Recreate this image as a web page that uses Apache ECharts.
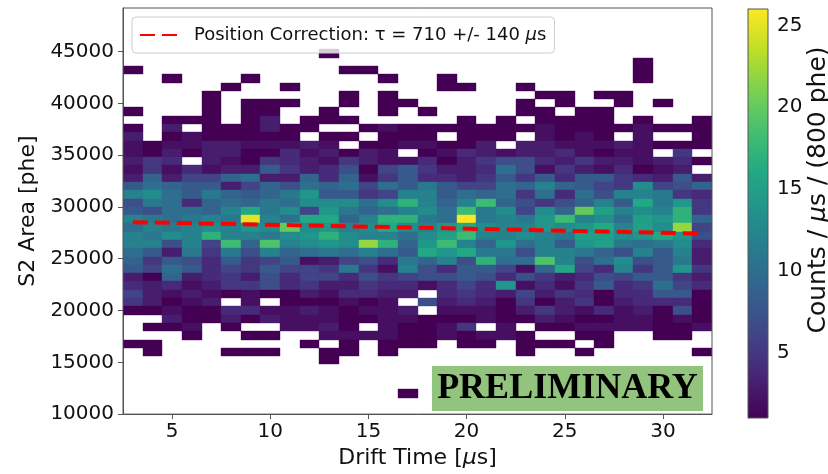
<!DOCTYPE html>
<html><head><meta charset="utf-8">
<script src="https://cdn.jsdelivr.net/npm/echarts@6/dist/echarts.min.js"></script>
<style>html,body{margin:0;padding:0;background:#fff}#c{width:828px;height:474px}</style>
</head><body><div id="c"></div>
<script>
// ---- data ----
const driftTimes = [3,4,5,6,7,8,9,10,11,12,13,14,15,16,17,18,19,20,21,22,23,24,25,26,27,28,29,30,31,32];
const s2BinLow = [44400,43600,42800,42000,41200,40400,39600,38800,38000,37200,36400,35600,34800,34000,33200,32400,31600,30800,30000,29200,28400,27600,26800,26000,25200,24400,23600,22800,22000,21200,20400,19600,18800,18000,17200,16400,15600,14800,14000,13200,12400,11600];
const counts = [
[0,0,0,0,0,0,0,0,0,0, 1,0,0,0,0,0,0,0,0,0, 0,0,0,0,0,0,0,0,0,0],
[0,0,0,0,0,0,0,0,0,0, 0,0,0,0,0,0,0,0,0,0, 0,0,0,0,0,0,1,0,0,0],
[1,0,0,0,0,0,0,0,0,0, 0,1,1,0,0,0,0,0,0,0, 0,0,0,0,0,0,1,0,0,0],
[0,0,1,0,0,0,1,0,0,0, 0,0,0,1,0,0,1,0,0,0, 0,0,0,0,0,0,1,0,0,0],
[0,0,0,0,0,1,0,0,1,0, 0,0,0,0,0,0,1,1,0,0, 1,0,0,0,0,0,0,0,0,0],
[0,0,0,0,1,0,0,0,0,0, 0,1,0,1,0,0,0,0,0,0, 0,1,1,0,1,1,0,0,0,0],
[0,0,0,0,1,0,1,1,1,0, 0,1,0,1,1,0,0,0,0,0, 1,0,1,0,0,1,0,1,0,0],
[1,0,0,0,1,0,1,1,0,0, 1,0,0,1,0,1,0,0,0,0, 1,1,0,1,1,0,0,0,0,0],
[0,0,1,1,1,0,1,3,0,1, 1,1,0,0,0,0,0,1,0,1, 0,1,1,1,1,0,1,0,0,1],
[1,0,3,0,1,1,1,3,1,1, 0,0,1,2,1,1,1,1,1,1, 1,2,1,1,1,1,2,1,1,1],
[3,0,1,2,1,1,1,1,1,0, 1,1,0,1,1,1,0,1,1,1, 0,2,1,2,1,0,2,0,0,1],
[2,1,2,2,3,3,2,2,2,3, 2,0,1,1,2,2,1,1,3,0, 3,3,2,2,2,3,2,1,1,1],
[2,1,3,1,3,3,1,1,4,2, 3,1,3,2,0,1,2,4,3,2, 3,3,4,2,1,2,2,0,5,0],
[3,5,4,0,3,2,1,5,4,3, 2,5,3,2,2,4,1,3,5,7, 7,4,3,5,3,3,2,3,4,1],
[2,5,2,4,2,3,3,8,5,3, 4,7,1,6,8,5,3,3,4,10, 7,2,5,3,2,4,1,2,3,0],
[3,9,3,6,6,9,10,3,3,9, 4,9,2,5,8,4,4,3,5,8, 5,8,4,8,8,5,4,3,8,3],
[8,10,9,8,8,3,6,9,7,10, 9,10,6,10,8,11,8,6,6,10, 9,12,9,8,6,5,13,6,7,9],
[12,13,10,8,11,9,8,9,11,14, 8,8,5,6,12,12,8,10,9,10, 5,10,4,10,7,12,12,11,5,4],
[7,11,10,4,9,10,9,11,10,13, 13,13,10,13,17,12,9,12,18,9, 7,5,7,9,12,8,16,11,14,5],
[8,7,10,10,9,12,16,11,13,6, 14,11,9,10,12,13,10,18,11,13, 6,13,9,20,15,12,13,12,17,5],
[12,11,10,11,12,11,25,12,10,16, 16,9,12,17,17,11,10,26,11,12, 11,14,18,12,13,10,15,14,17,9],
[10,12,11,12,13,12,14,13,20,13, 14,12,13,16,13,12,14,16,13,12, 12,14,13,14,16,12,15,13,22,6],
[12,11,13,12,17,12,12,11,13,14, 17,13,12,12,10,13,15,18,12,12, 13,12,11,15,15,13,14,16,14,7],
[12,12,7,12,6,18,9,19,12,13, 14,13,22,17,9,14,18,12,9,14, 10,12,8,14,15,11,10,11,13,4],
[10,8,3,11,5,11,7,12,9,10, 11,10,12,10,8,16,14,16,11,11, 7,12,12,11,9,7,12,8,12,3],
[9,5,8,7,4,8,5,6,8,2, 3,6,7,4,11,9,12,7,17,10, 10,19,12,7,10,13,7,8,11,3],
[8,6,10,8,4,6,5,8,6,6, 5,11,5,2,12,7,4,8,8,6, 2,9,16,6,4,12,5,8,14,5],
[3,1,9,3,4,5,3,7,4,6, 6,4,7,5,6,7,7,8,7,4, 7,5,3,4,7,6,8,8,5,3],
[4,3,4,2,3,5,5,7,4,5, 3,3,5,4,4,2,4,6,4,14, 2,4,2,5,8,4,5,10,6,4],
[6,3,2,3,2,1,2,1,1,3, 2,4,4,3,3,0,4,5,4,3, 6,3,5,4,1,4,4,8,8,1],
[5,3,1,2,3,0,2,0,1,1, 1,2,1,2,0,7,3,4,3,1, 5,1,3,5,1,3,4,4,4,1],
[1,1,2,1,1,4,4,2,2,3, 2,1,2,2,3,0,2,2,2,1, 3,5,3,2,4,2,3,1,7,1],
[0,0,3,1,1,3,1,3,2,2, 2,1,1,2,2,1,1,1,2,1, 1,3,2,1,1,2,2,1,2,1],
[0,1,1,2,0,1,0,0,2,2, 3,1,0,2,1,1,2,5,0,2, 0,1,1,2,2,2,2,1,1,2],
[0,0,0,1,0,0,1,1,0,0, 2,2,2,2,1,1,2,1,2,2, 1,0,0,1,1,0,0,1,1,0],
[1,1,0,0,0,0,0,0,0,1, 0,1,0,1,1,1,0,1,1,0, 1,1,1,0,1,0,0,0,0,0],
[0,1,0,0,0,1,1,1,0,0, 1,1,0,1,0,0,0,0,0,0, 1,0,0,1,0,0,0,0,0,1],
[0,0,0,0,0,0,0,0,0,0, 1,0,0,0,0,0,0,0,0,0, 0,0,0,0,0,0,0,0,0,0],
[0,0,0,0,0,0,0,0,0,0, 0,0,0,0,0,0,0,0,0,0, 0,0,0,0,0,0,0,0,0,0],
[0,0,0,0,0,0,0,0,0,0, 0,0,0,0,0,0,0,0,0,0, 0,0,0,0,0,0,0,0,0,0],
[0,0,0,0,0,0,0,0,0,0, 0,0,0,0,0,0,0,0,0,0, 0,0,0,0,0,0,0,0,0,0],
[0,0,0,0,0,0,0,0,0,0, 0,0,0,0,1,0,0,0,0,0, 0,0,0,0,0,0,0,0,0,0]
];
const fitDrift = [3, 17.5, 32];
const fitS2 = [28530, 28000, 27420];
const xTicks = [5,10,15,20,25,30];
const yTicks = [10000,15000,20000,25000,30000,35000,40000,45000];
const cbarTicks = [5,10,15,20,25];
const countMin = 1, countMax = 26;
const xBinWidth = 1, s2BinWidth = 800;
const legendLabel = 'Position Correction: τ = 710 +/- 140 μs';

// ---- build ----
const viridis = ['#440154','#482475','#414487','#355f8d','#2a788e','#21918c','#22a884','#44bf70','#7ad151','#bddf26','#fde725'];
const cells = [];
counts.forEach((row, i) => row.forEach((c, j) => { if (c > 0) cells.push([driftTimes[j], s2BinLow[i], c]); }));
const fitData = fitDrift.map((d, i) => [d, fitS2[i]]);

const FONT = 'DejaVu Sans';
const TXT = '#111';
const AX = '#555';
const chart = echarts.init(document.getElementById('c'), null, {renderer: 'canvas'});
chart.setOption({
  animation: false,
  backgroundColor: '#fff',
  grid: [
    {left: 123, top: 8, width: 589, height: 410, show: true, borderColor: AX, borderWidth: 1, backgroundColor: 'transparent', z: 3},
    {left: 748, top: 9, width: 20, height: 409, show: true, borderColor: AX, borderWidth: 1, backgroundColor: 'transparent', z: 3}
  ],
  xAxis: [
    {gridIndex: 0, type: 'value', min: 2.5, max: 32.5,
     axisLine: {show: true, lineStyle: {color: AX}},
     axisTick: {show: true, customValues: xTicks, length: 5, lineStyle: {color: AX}},
     axisLabel: {customValues: xTicks, fontSize: 20, color: TXT, margin: 8, fontFamily: FONT},
     splitLine: {show: false},
     name: 'Drift Time [{i|μ}s]', nameLocation: 'middle', nameGap: 30,
     nameTextStyle: {fontSize: 22, color: TXT, fontFamily: FONT, rich: {i: {fontSize: 22, fontStyle: 'italic', color: TXT, fontFamily: FONT}}}},
    {gridIndex: 1, type: 'value', min: 0, max: 1, show: false}
  ],
  yAxis: [
    {gridIndex: 0, type: 'value', min: 10000, max: 49200,
     axisLine: {show: true, lineStyle: {color: AX}},
     axisTick: {show: true, customValues: yTicks, length: 5, lineStyle: {color: AX}},
     axisLabel: {customValues: yTicks, fontSize: 20, color: TXT, margin: 9, fontFamily: FONT, formatter: v => String(v)},
     splitLine: {show: false},
     name: 'S2 Area [phe]', nameLocation: 'middle', nameGap: 80, nameRotate: 90,
     nameTextStyle: {fontSize: 22, color: TXT, fontFamily: FONT}},
    {gridIndex: 1, type: 'value', min: countMin, max: countMax, position: 'right',
     axisLine: {show: true, lineStyle: {color: AX}},
     axisTick: {show: true, customValues: cbarTicks, length: 5, lineStyle: {color: AX}},
     axisLabel: {customValues: cbarTicks, fontSize: 20, color: TXT, margin: 9, fontFamily: FONT},
     splitLine: {show: false}}
  ],
  visualMap: {show: false, type: 'continuous', min: countMin, max: countMax, dimension: 2, seriesIndex: 0,
    inRange: {color: viridis}},
  legend: {show: true, left: 132, top: 17, z: 20, data: [legendLabel],
    backgroundColor: 'rgba(255,255,255,0.8)', borderColor: '#cccccc', borderWidth: 1, borderRadius: 4,
    padding: [9, 8, 9, 7], itemWidth: 38, itemHeight: 18,
    itemStyle: {opacity: 0},
    formatter: () => '{n|Position Correction: τ = 710 +/- 140 }{i|μ}{n|s}',
    textStyle: {fontSize: 18, color: TXT, fontFamily: FONT, padding: [0, 0, 0, 11],
      rich: {n: {fontSize: 18, color: TXT, fontFamily: FONT}, i: {fontSize: 18, color: TXT, fontFamily: FONT, fontStyle: 'italic'}}}},
  series: [
    {type: 'custom', name: 'hist', xAxisIndex: 0, yAxisIndex: 0, clip: true, z: 1,
     data: cells, encode: {x: 0, y: 1},
     renderItem: (params, api) => {
       const x = api.value(0), y = api.value(1);
       const p0 = api.coord([x - xBinWidth / 2, y + s2BinWidth]);
       const p1 = api.coord([x + xBinWidth / 2, y]);
       const x0 = Math.round(p0[0]), y0 = Math.round(p0[1]);
       const x1 = Math.round(p1[0]), y1 = Math.round(p1[1]);
       return {type: 'rect', shape: {x: x0, y: y0, width: x1 - x0, height: y1 - y0},
         style: {fill: api.visual('color'), stroke: api.visual('color'), lineWidth: 0.4}};
     }},
    {type: 'line', name: legendLabel, xAxisIndex: 0, yAxisIndex: 0, data: fitData, symbol: 'none', z: 5,
     lineStyle: {color: '#ff0000', width: 4, type: [15, 7]}, itemStyle: {color: '#ff0000'}},
    {type: 'custom', name: 'cbar', xAxisIndex: 1, yAxisIndex: 1, z: 1, data: [[0, countMin, countMax]],
     renderItem: (params, api) => {
       const p0 = api.coord([0, api.value(2)]);
       const p1 = api.coord([1, api.value(1)]);
       return {type: 'rect', shape: {x: p0[0], y: p0[1], width: p1[0] - p0[0], height: p1[1] - p0[1]},
         style: {fill: new echarts.graphic.LinearGradient(0, 1, 0, 0,
           viridis.map((c, i) => ({offset: i / (viridis.length - 1), color: c})))}};
     }}
  ],
  graphic: [
    {type: 'group', left: 432, top: 366, z: 100, children: [
      {type: 'rect', shape: {x: 0, y: 0, width: 271, height: 45}, style: {fill: '#93c47d'}},
      {type: 'text', x: 135.5, y: 23, style: {text: 'PRELIMINARY', font: 'bold 36px "Liberation Serif"', fill: '#000', align: 'center', verticalAlign: 'middle'}}
    ]},
    {type: 'text', x: 818, y: 190, rotation: Math.PI / 2, z: 100,
     style: {text: '{n|Counts / }{i|μ}{n|s / (800 phe)}', align: 'center', verticalAlign: 'middle',
       rich: {n: {fontSize: 25, fontFamily: FONT, fill: TXT}, i: {fontSize: 25, fontFamily: FONT, fill: TXT, fontStyle: 'italic'}}}}
  ]
});
</script></body></html>
